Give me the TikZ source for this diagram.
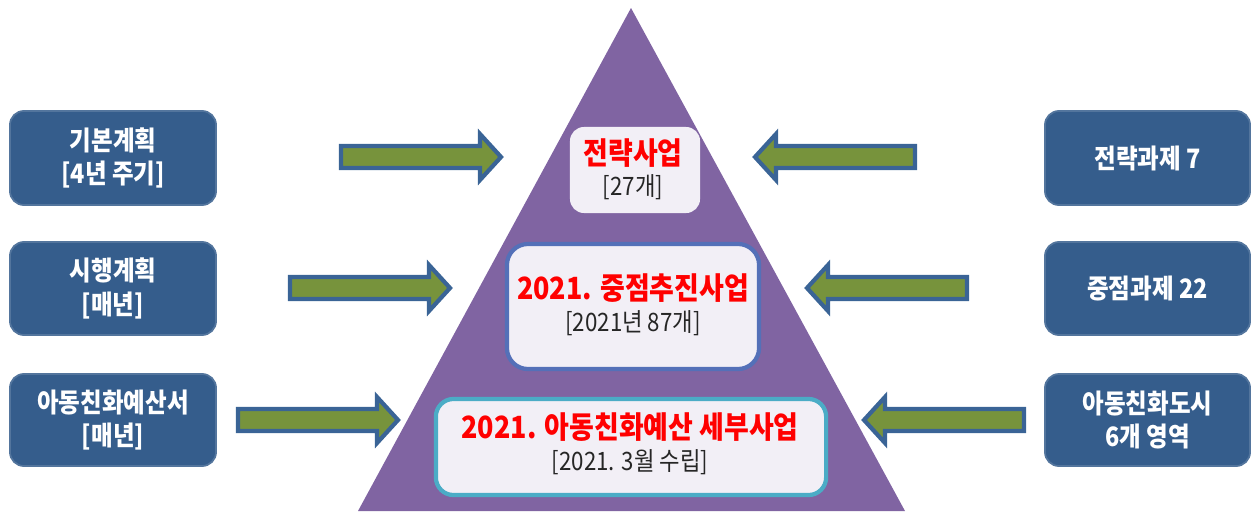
\documentclass[tikz,border=0pt]{standalone}
\usepackage{fontspec}
\newfontfamily\kr[FakeStretch=0.88]{Noto Sans CJK KR}
\definecolor{sidebox}{HTML}{355D8C}
\definecolor{tri}{HTML}{8064A2}
\definecolor{inner}{HTML}{F2EFF6}
\definecolor{arrgreen}{HTML}{77933C}
\definecolor{arrblue}{HTML}{3A6496}
\definecolor{midborder}{HTML}{5470B8}
\definecolor{botborder}{HTML}{4BACC6}
\definecolor{redtxt}{HTML}{FF0000}
\tikzset{
  sidebox/.style={draw=sidebox!85!white, line width=0.5pt, fill=sidebox, rounded corners=4pt,
    text=white, align=center, font=\kr\bfseries\fontsize{7.6}{9.6}\selectfont, inner sep=0pt},
  innerbox/.style={fill=inner, rounded corners=4pt, align=center, inner sep=0pt},
  redt/.style={text=redtxt, font=\kr\bfseries\fontsize{8.7}{10}\selectfont},
  blkt/.style={text=black!85, font=\kr\fontsize{7.2}{8}\selectfont},
  blockarrow/.style={fill=arrgreen, draw=arrblue, line width=1.2pt, line join=miter},
  rarrow/.pic={\path[blockarrow] (0,-11) -- (139,-11) -- (139,-23) -- (160,0) -- (139,23) -- (139,11) -- (0,11) -- cycle;}
}
\begin{document}
\begin{tikzpicture}[x=0.01cm,y=-0.01cm]
\useasboundingbox (0,0) rectangle (1252,512);
% pyramid
\path[fill=tri] (631,8) -- (905,511) -- (358,511) -- cycle;
% inner boxes
\node[innerbox, minimum width=1.30cm, minimum height=0.86cm] (b1) at (635,170) {};
\node[innerbox, draw=midborder, line width=1.2pt, rounded corners=6pt, minimum width=2.52cm, minimum height=1.25cm] (b2) at (633,306.5) {};
\node[innerbox, draw=botborder, line width=1.2pt, rounded corners=5pt, minimum width=3.90cm, minimum height=0.96cm] (b3) at (631,447) {};
\node[redt] (t1a) at (633,153) {전략사업};
\node[blkt] (t1b) at (633,187) {[27개]};
\node[redt] (t2a) at (633,288) {2021. 중점추진사업};
\node[blkt] (t2b) at (633,323) {[2021년 87개]};
\node[redt] (t3a) at (630,427) {2021. 아동친화예산 세부사업};
\node[blkt] (t3b) at (630,462) {[2021. 3월 수립]};
% side boxes
\node[sidebox, minimum width=2.06cm, minimum height=0.94cm] (l1) at (113,158) {기본계획\\{}[4년 주기]};
\node[sidebox, minimum width=2.06cm, minimum height=0.93cm] (l2) at (113,288.5) {시행계획\\{}[매년]};
\node[sidebox, minimum width=2.06cm, minimum height=0.92cm] (l3) at (113,420) {아동친화예산서\\{}[매년]};
\node[sidebox, minimum width=2.05cm, minimum height=0.94cm] (r1) at (1147.5,158) {전략과제 7};
\node[sidebox, minimum width=2.05cm, minimum height=0.93cm] (r2) at (1147.5,288.5) {중점과제 22};
\node[sidebox, minimum width=2.05cm, minimum height=0.92cm] (r3) at (1147.5,420) {아동친화도시\\6개 영역};
% block arrows
\pic at (341,157) {rarrow};
\pic at (290,288) {rarrow};
\pic at (238,420) {rarrow};
\pic[xscale=-1] at (915,157) {rarrow};
\pic[xscale=-1] at (967,288) {rarrow};
\pic[xscale=-1] at (1024,420) {rarrow};
\end{tikzpicture}
\end{document}
